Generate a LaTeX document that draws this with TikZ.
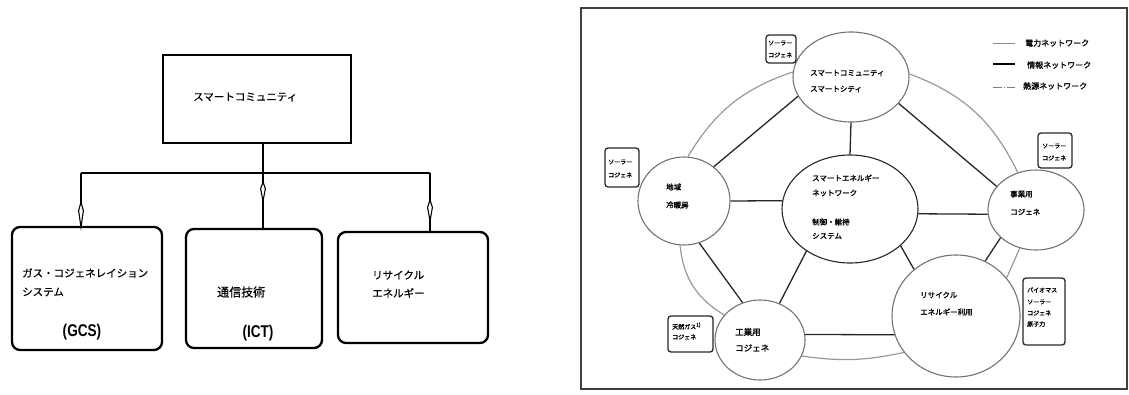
\documentclass[tikz,border=0pt]{standalone}
\usepackage{fontspec}
\setmainfont{Noto Sans CJK JP}
\newfontfamily\jb{Noto Sans CJK JP}[FakeBold=1.6]
\newfontfamily\jm{Noto Sans CJK JP}[FakeBold=0.6]
\newfontfamily\lat{Liberation Sans}
\usetikzlibrary{shapes.geometric,arrows.meta}
\begin{document}
\begin{tikzpicture}[x=1pt,y=-1pt,
  topbox/.style={draw=black, line width=2.6pt, inner sep=0pt},
  subbox/.style={draw=black, line width=2.3pt, rounded corners=8pt, inner sep=0pt},
  conn/.style={draw=black, line width=2pt},
  headshape/.style={draw=black, line width=1.1pt, fill=white},
  jtxt/.style={anchor=west, inner sep=0pt, font=\jm\fontsize{10.5}{12}\selectfont},
  abbr/.style={inner sep=0pt, font=\lat\bfseries\fontsize{17}{19}\selectfont},
  circ/.style={ellipse, draw=black!55, line width=1.1pt, inner sep=0pt},
  dark/.style={draw=black!85, line width=1.3pt},
  ring/.style={draw=black!40, line width=1.2pt},
  sbox/.style={draw=black!85, rounded corners=3pt, line width=1.3pt, inner sep=0pt},
  rtxt/.style={anchor=west, inner sep=0pt, font=\jb\fontsize{7.5}{9}\selectfont},
  stxt/.style={anchor=west, inner sep=0pt, font=\jb\fontsize{6}{7}\selectfont},
  ltxt/.style={anchor=west, inner sep=0pt, font=\jb\fontsize{8}{9}\selectfont}]
\useasboundingbox (0,0) rectangle (1129,394);

% ---------------- left diagram ----------------
\node[topbox, minimum width=188pt, minimum height=88pt] (sc) at (257,99) {};
\node[subbox, minimum width=150pt, minimum height=123pt] (gcs) at (87,288.5) {};
\node[subbox, minimum width=136pt, minimum height=119pt] (ict) at (254,288.5) {};
\node[subbox, minimum width=150pt, minimum height=111pt] (re) at (413,287.5) {};

\coordinate (j) at (263,173);
\coordinate (jl) at (81,173);
\coordinate (jr) at (430,173);

\draw[conn] (sc.south -| j) -- (j);
\draw[conn] (jl) -- (jr);
\draw[conn] (jl) -- (jl |- gcs.north);
\draw[conn] (j) -- (j |- ict.north);
\draw[conn] (jr) -- (jr |- re.north);
% hollow arrowheads on the three drops
\foreach \ax/\ay/\al in {81/202/25, 263/182/19, 430/200/21}{
  \draw[headshape] (\ax,\ay) -- (\ax+2.4,\ay+0.35*\al) -- (\ax,\ay+\al) -- (\ax-2.4,\ay+0.35*\al) -- cycle;
}

\node[jtxt] (t0) at (193,97) {スマートコミュニティ};
\node[jtxt] (t1) at (22,273) {ガス・コジェネレイション};
\node[jtxt] (t2) at (22,292) {システム};
\node[abbr] (t3) at (82,332) {\scalebox{0.8}[1]{(GCS)}};
\node[jtxt, font=\jm\fontsize{12}{13}\selectfont] (t4) at (217,292) {通信技術};
\node[abbr] (t5) at (258,333) {\scalebox{0.8}[1]{(ICT)}};
\node[jtxt] (t6) at (372,275) {リサイクル};
\node[jtxt] (t7) at (372,293) {エネルギー};

% ---------------- right diagram ----------------
\draw[draw=black!75, line width=1.5pt] (581,8) rectangle (1127,389);

\node[circ, minimum width=116pt, minimum height=90pt] (T) at (851,77) {};
\node[circ, minimum width=92pt, minimum height=88pt] (L) at (684,201) {};
\node[circ, draw=black!85, minimum width=136pt, minimum height=108pt] (C) at (850,209) {};
\node[circ, minimum width=96pt, minimum height=80pt] (R) at (1036,210) {};
\node[circ, minimum width=90pt, minimum height=80pt] (B) at (760,340) {};
\node[circ, minimum width=128pt, minimum height=122pt] (E) at (956,316) {};

% information network (dark straight lines)
\draw[dark] (T.200) -- (L.49);
\draw[dark] (T.270) -- (C.90);
\draw[dark] (T.331) -- (R.149);
\draw[dark] (L.0) -- (C.173);
\draw[dark] (C.356) -- (R.185);
\draw[dark] (L.290) -- (B.115);
\draw[dark] (C.224) -- (B.62);
\draw[dark] (C.324) -- (E.132);
\draw[dark] (R.218) -- (E.62);
\draw[dark] (B.7) -- (E.197);

% outer ring (light lines)
\draw[ring] (T.175) to[bend right=20] (L.85);
\draw[ring] (T.3) to[bend left=22] (R.116);
\draw[ring] (L.265) to[bend right=27] (B.145);
\draw[ring] (B.339) to[bend right=10] (E.215);
\draw[ring] (R.247) -- (E.37);

% circle texts
\node[rtxt] (tT1) at (810,73) {スマートコミュニティ};
\node[rtxt] (tT2) at (810,89) {スマートシティ};
\node[rtxt] (tL1) at (666,187) {地域};
\node[rtxt] (tL2) at (666,205) {冷暖房};
\node[rtxt] (tC1) at (812,178) {スマートエネルギー};
\node[rtxt] (tC2) at (812,193) {ネットワーク};
\node[rtxt] (tC3) at (812,222) {制御・維持};
\node[rtxt] (tC4) at (812,236) {システム};
\node[rtxt] (tR1) at (1010,194) {事業用};
\node[rtxt] (tR2) at (1010,212) {コジェネ};
\node[rtxt] (tE1) at (920,295) {リサイクル};
\node[rtxt] (tE2) at (920,312) {エネルギー利用};
\node[rtxt, font=\jb\fontsize{8.5}{10}\selectfont] (tB1) at (735,332) {工業用};
\node[rtxt, font=\jb\fontsize{8.5}{10}\selectfont] (tB2) at (735,348) {コジェネ};

% small boxes
\node[sbox, minimum width=30pt, minimum height=28pt] (s1) at (781,49) {};
\node[stxt] (s1a) at (768,43) {ソーラー};
\node[stxt] (s1b) at (768,55) {コジェネ};
\node[sbox, minimum width=34pt, minimum height=39pt] (s2) at (622,167.5) {};
\node[stxt] (s2a) at (608,162) {ソーラー};
\node[stxt] (s2b) at (608,175) {コジェネ};
\node[sbox, minimum width=34pt, minimum height=35pt] (s3) at (1055,150.5) {};
\node[stxt] (s3a) at (1042,146) {ソーラー};
\node[stxt] (s3b) at (1042,158) {コジェネ};
\node[sbox, minimum width=45pt, minimum height=36pt] (s4) at (690.5,334) {};
\node[stxt] (s4a) at (672,326) {天然ガス\textsuperscript{1)}};
\node[stxt] (s4b) at (672,337) {コジェネ};
\node[sbox, minimum width=42pt, minimum height=67pt] (s5) at (1044,311.5) {};
\node[stxt] (s5a) at (1027,290) {バイオマス};
\node[stxt] (s5b) at (1027,302) {ソーラー};
\node[stxt] (s5c) at (1027,313) {コジェネ};
\node[stxt] (s5d) at (1027,324) {原子力};

% legend
\draw[draw=black!45, line width=0.8pt] (993,43) -- (1015,43);
\draw[draw=black, line width=1.4pt] (993,64) -- (1015,64);
\draw[draw=black!50, line width=0.8pt, dash pattern=on 9pt off 2pt on 1pt off 2pt] (993,87) -- (1015,87);
\node[ltxt] (lg1) at (1025,43) {電力ネットワーク};
\node[ltxt] (lg2) at (1027,65) {情報ネットワーク};
\node[ltxt] (lg3) at (1023,86) {熱源ネットワーク};
\end{tikzpicture}
\end{document}
